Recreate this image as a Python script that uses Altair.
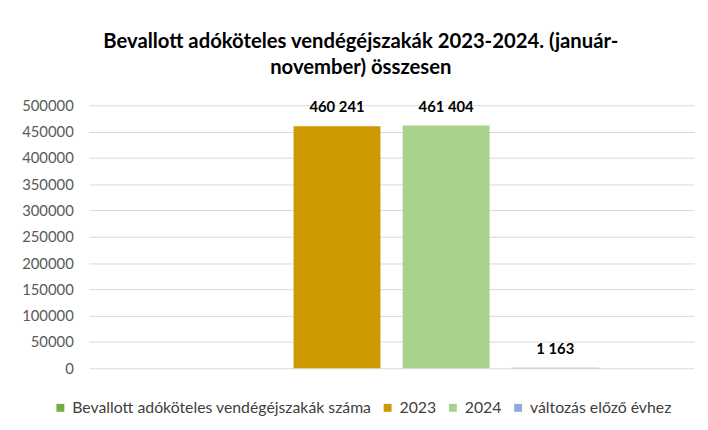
import altair as alt
import pandas as pd

series = ["Bevallott adóköteles vendégéjszakák száma", "2023", "2024", "változás előző évhez"]
values = [None, 460241, 461404, 1163]
colors = ["#70AD47", "#CC9900", "#A9D18E", "#8FAADC"]
y_ticks = [0, 50000, 100000, 150000, 200000, 250000, 300000, 350000, 400000, 450000, 500000]

labels = [("" if v is None else f"{v:,}".replace(",", " ")) for v in values]
df = pd.DataFrame({"series": series, "value": values, "label": labels})

FONT = "Lato"

x = alt.X("series:N", sort=series,
          scale=alt.Scale(domain=series, paddingInner=0.204, paddingOuter=0.874),
          axis=alt.Axis(title=None, labels=False, ticks=False, domain=False, grid=False))
y = alt.Y("value:Q",
          scale=alt.Scale(domain=[0, 500000], nice=False),
          axis=alt.Axis(title=None, values=y_ticks, format="d", ticks=False, domain=False,
                        labelFont=FONT, labelFontSize=15, labelColor="#595959",
                        labelOverlap=False,
                        labelPadding=16, gridColor="#D9D9D9", gridWidth=1))

base = alt.Chart(df).transform_filter("isValid(datum.value)")

bars = base.mark_bar().encode(
    x=x, y=y,
    color=alt.Color("series:N", sort=series,
                    scale=alt.Scale(domain=series, range=colors),
                    legend=alt.Legend(title=None, orient="none", direction="horizontal",
                                      legendX=-37, legendY=298,
                                      symbolType="square", symbolSize=64,
                                      symbolStrokeWidth=0,
                                      labelFont=FONT, labelFontSize=16, labelColor="#404040",
                                      labelLimit=400, columnPadding=8, symbolOffset=0,
                                      labelOffset=4)),
)

text = base.mark_text(dy=-19, font=FONT, fontSize=15, fontWeight="bold", color="#000000",
                      baseline="middle").encode(
    x=x, y=y, text="label:N")

chart = alt.layer(bars, text).properties(
    width=612, height=266,
    title=alt.TitleParams(
        text=["Bevallott adóköteles vendégéjszakák 2023-2024. (január-", "november) összesen"],
        font=FONT, fontSize=20.5, fontWeight="bold", color="#000000",
        anchor="middle", frame="bounds", lineHeight=26, offset=20, dx=3),
    autosize=alt.AutoSizeParams(type="none"),
    padding={"left": 82, "top": 96, "right": 6, "bottom": 60},
).configure(background="white").configure_view(stroke=None)

chart.save("out.html", embed_options={"renderer": "svg", "actions": False})
